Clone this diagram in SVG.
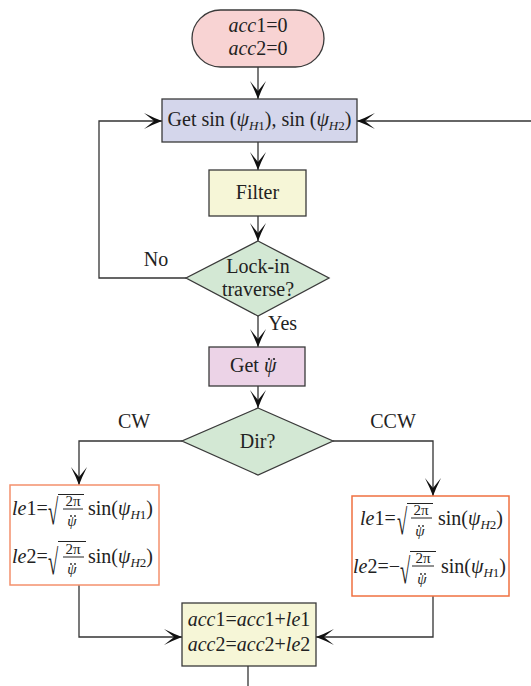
<svg xmlns="http://www.w3.org/2000/svg" width="531" height="686" viewBox="0 0 531 686">
<style>
text{font-family:"Liberation Serif","Times New Roman",serif;font-size:20px;fill:#222}
.i{font-style:italic}
.sub{font-size:13px;font-style:italic}
.sm{font-size:15px}
.rad{font-size:34px}
.node{stroke:#3a3a3a;stroke-width:1.3}
.c{fill:none;stroke:#333;stroke-width:1.3}
.bar{stroke:#222;stroke-width:1}
.dot{fill:#222}
</style>
<defs>
<marker id="ah" viewBox="-19 -9 20 18" refX="0" refY="0" markerWidth="20" markerHeight="18" markerUnits="userSpaceOnUse" orient="auto">
<path d="M0,0 Q-8,-3 -18,-8 Q-11,-2.5 -8,0 Q-11,2.5 -18,8 Q-8,3 0,0Z" fill="#111"/>
</marker>
</defs>
<g id="connectors">
<line class="c" x1="258" y1="67" x2="258" y2="99" marker-end="url(#ah)"/>
<line class="c" x1="258" y1="142" x2="258" y2="170" marker-end="url(#ah)"/>
<line class="c" x1="258" y1="216" x2="258" y2="241" marker-end="url(#ah)"/>
<line class="c" x1="258" y1="316" x2="258" y2="347" marker-end="url(#ah)"/>
<polyline class="c" points="186,278 99,278 99,121 162,121" marker-end="url(#ah)"/>
<line class="c" x1="531" y1="121" x2="357" y2="121" marker-end="url(#ah)"/>
<line class="c" x1="258" y1="386" x2="258" y2="408" marker-end="url(#ah)"/>
<polyline class="c" points="182,441 79,441 79,485" marker-end="url(#ah)"/>
<polyline class="c" points="333,441 433,441 433,496" marker-end="url(#ah)"/>
<polyline class="c" points="79,585 79,637 182,637" marker-end="url(#ah)"/>
<polyline class="c" points="433,596 433,637 316,637" marker-end="url(#ah)"/>
<line class="c" x1="248" y1="666" x2="248" y2="686"/>
<text x="156" y="266" text-anchor="middle">No</text>
<text x="268" y="330">Yes</text>
<text x="134" y="428" text-anchor="middle">CW</text>
<text x="393" y="428" text-anchor="middle">CCW</text>
</g>
<g id="start">
<rect class="node" x="192" y="10" width="132" height="57" rx="28.5" fill="#f8d3d3"/>
<text x="258" y="32" text-anchor="middle"><tspan class="i">acc</tspan>1=0</text>
<text x="258" y="55" text-anchor="middle"><tspan class="i">acc</tspan>2=0</text>
</g>
<g id="getsin">
<rect class="node" x="162" y="99" width="195" height="43" fill="#d4d6eb"/>
<text x="259.5" y="126" text-anchor="middle">Get sin (<tspan class="i">ψ</tspan><tspan class="sub" dy="4">H</tspan><tspan font-size="13" dy="0">1</tspan><tspan dy="-4">), sin (</tspan><tspan class="i">ψ</tspan><tspan class="sub" dy="4">H</tspan><tspan font-size="13">2</tspan><tspan dy="-4">)</tspan></text>
</g>
<g id="filter">
<rect class="node" x="209" y="170" width="97" height="46" fill="#f6f6d7"/>
<text x="257.5" y="199" text-anchor="middle">Filter</text>
</g>
<g id="lockin">
<polygon class="node" points="258,241 329,278 258,316 186,278" fill="#d3e8d4"/>
<text x="258" y="273" text-anchor="middle">Lock-in</text>
<text x="258" y="296" text-anchor="middle">traverse?</text>
</g>
<g id="getpsi">
<rect class="node" x="209" y="347" width="96" height="39" fill="#ecd3e7"/>
<text x="230" y="372">Get <tspan class="i">ψ</tspan></text>
<circle class="dot" cx="269" cy="359" r="1.1"/>
<circle class="dot" cx="274" cy="359" r="1.1"/>
</g>
<g id="dir">
<polygon class="node" points="258,408 333,441 258,475 182,441" fill="#d3e8d4"/>
<text x="257.5" y="448" text-anchor="middle">Dir?</text>
</g>
<g id="cwbox">
<rect x="10" y="485" width="149" height="100" fill="#fff" stroke="#f4906c" stroke-width="1.5"/>
<text x="12" y="515"><tspan class="i">le</tspan>1=</text>
<text class="rad" transform="translate(48,524) scale(0.55,1.05)">√</text>
<line class="bar" x1="58" y1="494.5" x2="84" y2="494.5"/>
<text class="sm" x="73" y="506" text-anchor="middle">2π</text>
<line class="bar" x1="63" y1="509" x2="83" y2="509"/>
<text class="sm i" x="72" y="526" text-anchor="middle">ψ</text>
<circle class="dot" cx="71" cy="516" r="0.9"/><circle class="dot" cx="75" cy="516" r="0.9"/>
<text x="88" y="515">sin(<tspan class="i">ψ</tspan><tspan class="sub" dy="4">H</tspan><tspan font-size="13">1</tspan><tspan dy="-4">)</tspan></text>
<text x="12" y="563"><tspan class="i">le</tspan>2=</text>
<text class="rad" transform="translate(48,574) scale(0.55,1.05)">√</text>
<line class="bar" x1="58" y1="541.5" x2="86" y2="541.5"/>
<text class="sm" x="73" y="554" text-anchor="middle">2π</text>
<line class="bar" x1="63" y1="557" x2="84" y2="557"/>
<text class="sm i" x="72" y="574" text-anchor="middle">ψ</text>
<circle class="dot" cx="71" cy="564" r="0.9"/><circle class="dot" cx="75" cy="564" r="0.9"/>
<text x="88" y="563">sin(<tspan class="i">ψ</tspan><tspan class="sub" dy="4">H</tspan><tspan font-size="13">2</tspan><tspan dy="-4">)</tspan></text>
</g>
<g id="ccwbox">
<rect x="352" y="496" width="157" height="100" fill="#fff" stroke="#f07040" stroke-width="1.5"/>
<text x="360" y="525"><tspan class="i">le</tspan>1=</text>
<text class="rad" transform="translate(397,534) scale(0.55,1.05)">√</text>
<line class="bar" x1="407" y1="503.5" x2="433" y2="503.5"/>
<text class="sm" x="421" y="515" text-anchor="middle">2π</text>
<line class="bar" x1="411" y1="518" x2="432" y2="518"/>
<text class="sm i" x="420" y="536" text-anchor="middle">ψ</text>
<circle class="dot" cx="419" cy="526" r="0.9"/><circle class="dot" cx="423" cy="526" r="0.9"/>
<text x="438" y="525">sin(<tspan class="i">ψ</tspan><tspan class="sub" dy="4">H</tspan><tspan font-size="13">2</tspan><tspan dy="-4">)</tspan></text>
<text x="353" y="573"><tspan class="i">le</tspan>2=−</text>
<text class="rad" transform="translate(400,583) scale(0.55,1.05)">√</text>
<line class="bar" x1="410" y1="551.5" x2="436" y2="551.5"/>
<text class="sm" x="423" y="563" text-anchor="middle">2π</text>
<line class="bar" x1="412" y1="566" x2="434" y2="566"/>
<text class="sm i" x="422" y="584" text-anchor="middle">ψ</text>
<circle class="dot" cx="421" cy="574" r="0.9"/><circle class="dot" cx="425" cy="574" r="0.9"/>
<text x="441" y="573">sin(<tspan class="i">ψ</tspan><tspan class="sub" dy="4">H</tspan><tspan font-size="13">1</tspan><tspan dy="-4">)</tspan></text>
</g>
<g id="accum">
<rect class="node" x="182" y="603" width="134" height="63" fill="#f6f6d7"/>
<text x="249" y="626" text-anchor="middle"><tspan class="i">acc</tspan>1=<tspan class="i">acc</tspan>1+<tspan class="i">le</tspan>1</text>
<text x="249" y="651" text-anchor="middle"><tspan class="i">acc</tspan>2=<tspan class="i">acc</tspan>2+<tspan class="i">le</tspan>2</text>
</g>
</svg>
